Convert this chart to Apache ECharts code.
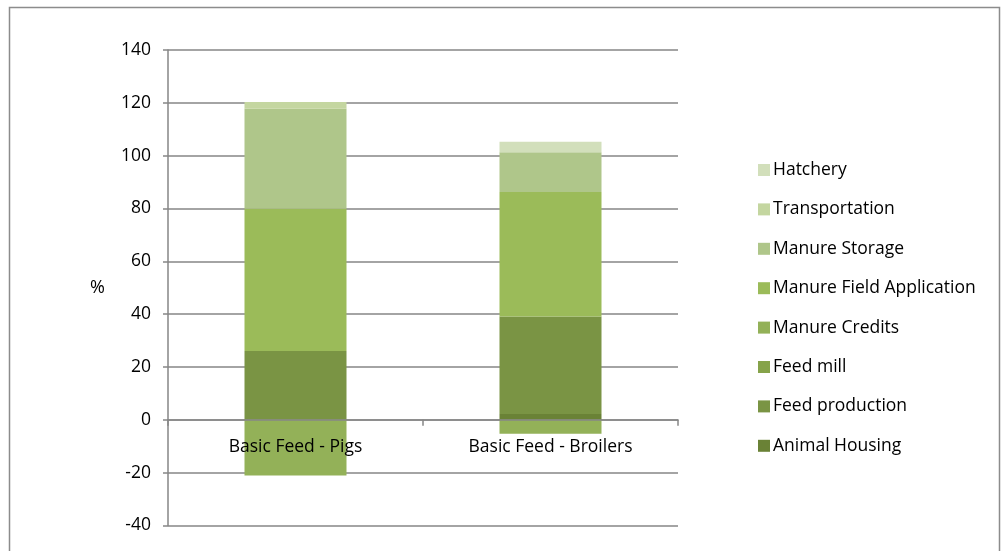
<!DOCTYPE html>
<html><head><meta charset="utf-8">
<script src="https://cdn.jsdelivr.net/npm/echarts@6/dist/echarts.min.js"></script>
<style>html,body{margin:0;padding:0;background:#fff;}#c{width:1002px;height:551px;}</style>
</head><body><div id="c"></div>
<script>
const categories = ['Basic Feed - Pigs', 'Basic Feed - Broilers'];
const seriesNames = ['Animal Housing', 'Feed production', 'Feed mill', 'Manure Credits', 'Manure Field Application', 'Manure Storage', 'Transportation', 'Hatchery'];
const animalHousing = [0, 2.2];
const feedProduction = [26.1, 36.9];
const feedMill = [0, 0];
const manureCredits = [-21.1, -5.3];
const manureFieldApplication = [53.9, 47.1];
const manureStorage = [37.8, 15.1];
const transportation = [2.5, 0];
const hatchery = [0, 4.0];
const seriesColors = ['#6a8236', '#7a9444', '#86a34a', '#93b158', '#9bbb59', '#afc68a', '#c4d6a0', '#d2dfbb'];
const yTicks = { min: -40, max: 140, interval: 20 };

const values = [animalHousing, feedProduction, feedMill, manureCredits, manureFieldApplication, manureStorage, transportation, hatchery];
const font = 'Open Sans';
const chart = echarts.init(document.getElementById('c'));
chart.setOption({
  animation: false,
  textStyle: { fontFamily: font },
  graphic: [{ type: 'rect', shape: { x: 9.5, y: 7.5, width: 990, height: 560 }, style: { fill: 'none', stroke: '#8c8c8c', lineWidth: 1.5 }, silent: true }],
  grid: { left: 168, right: 324, top: 50, bottom: 25.5 },
  legend: {
    orient: 'vertical', left: 753, top: 156,
    itemWidth: 12, itemHeight: 12, itemGap: 21.4,
    icon: 'rect',
    textStyle: { fontSize: 17.5, color: '#000', fontFamily: font, padding: [0, 0, 0, -2] },
    data: seriesNames.slice().reverse()
  },
  xAxis: {
    type: 'category', data: categories, z: 10,
    axisLine: { onZero: true, lineStyle: { color: '#868686', width: 1.5 } },
    axisTick: { show: true, length: 6, lineStyle: { color: '#868686', width: 1.5 } },
    axisLabel: { color: '#000', fontSize: 17.5, margin: -87, fontFamily: font },
    splitLine: { show: false }
  },
  yAxis: {
    type: 'value', min: yTicks.min, max: yTicks.max, interval: yTicks.interval,
    name: '%', nameLocation: 'middle', nameRotate: 0, nameGap: 63,
    nameTextStyle: { fontSize: 18, color: '#000', fontFamily: font },
    axisLine: { show: true, lineStyle: { color: '#868686', width: 1.5 } },
    axisTick: { show: true, length: 5, lineStyle: { color: '#868686', width: 1.5 } },
    axisLabel: { color: '#000', fontSize: 17.5, margin: 17, fontFamily: font },
    splitLine: { show: true, lineStyle: { color: '#868686', width: 1.5 } }
  },
  series: seriesNames.map((n, i) => ({
    name: n, type: 'bar', stack: 'total', barWidth: '40%',
    itemStyle: { color: seriesColors[i] },
    data: values[i]
  }))
});
</script></body></html>
